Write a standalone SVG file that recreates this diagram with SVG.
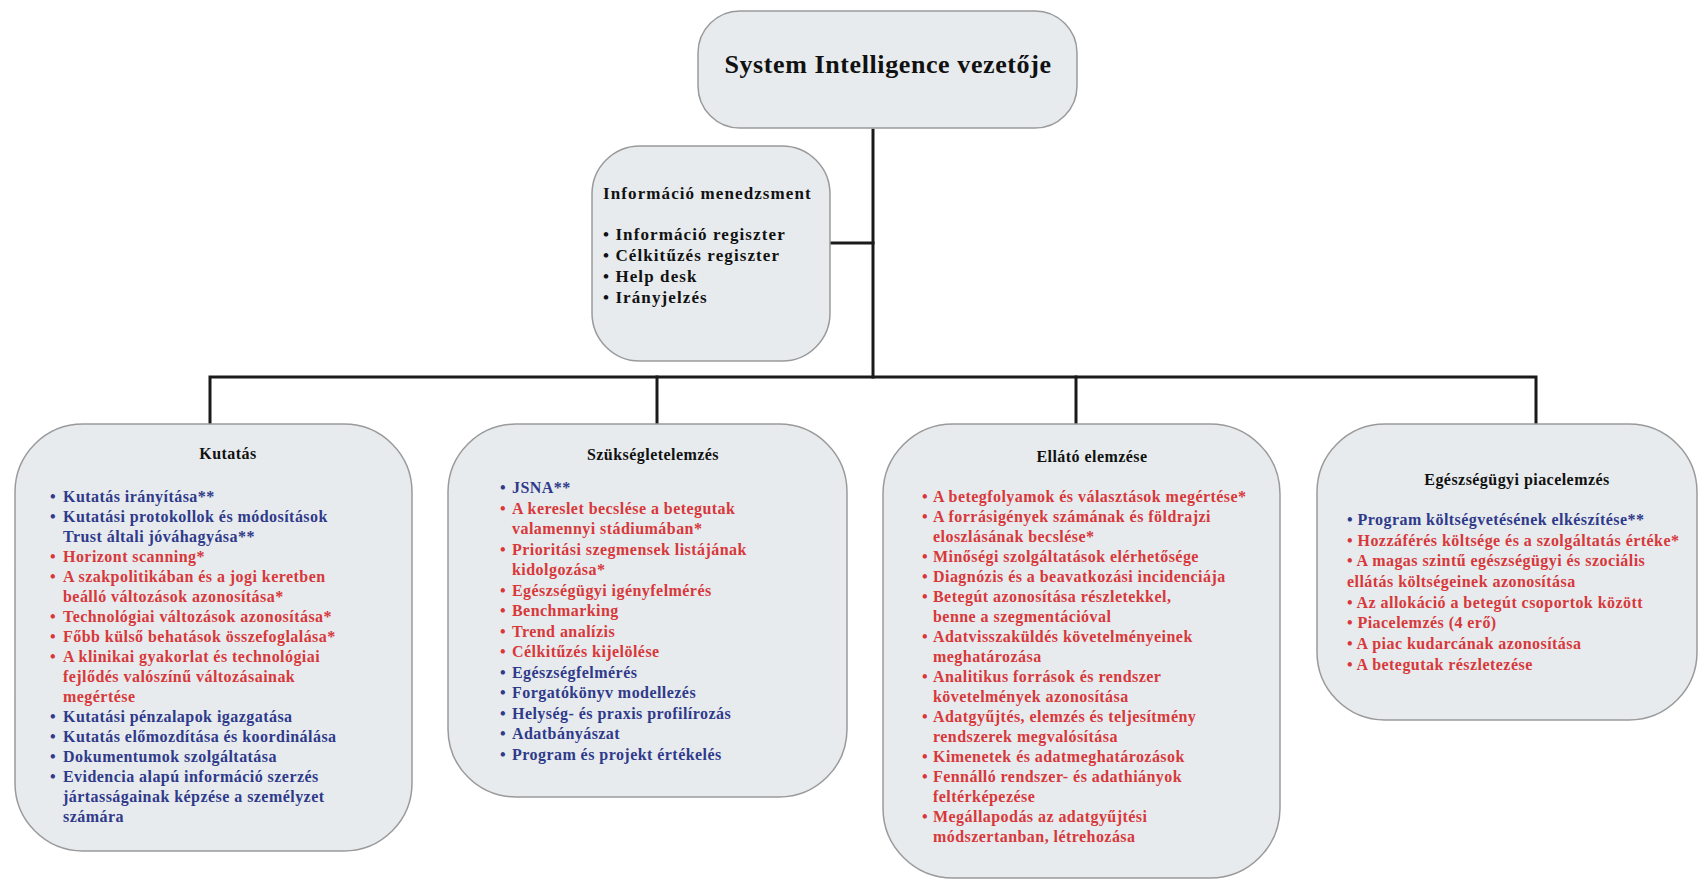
<svg xmlns="http://www.w3.org/2000/svg" width="1699" height="880" viewBox="0 0 1699 880">
<style>
.box{fill:#e7ebee;stroke:#9a9a9a;stroke-width:1.5}
.ln{stroke:#1a1a1a;stroke-width:3;fill:none;stroke-linecap:square}
text{font-family:"Liberation Serif","Times New Roman",serif;font-weight:bold}
.h{font-size:16px;fill:#111;text-anchor:middle;letter-spacing:0.45px}
.b{font-size:16px;fill:#2f3a8a;letter-spacing:0.45px}
.r{font-size:16px;fill:#d8383a;letter-spacing:0.45px}
.k{font-size:17px;fill:#111;letter-spacing:1.1px}
</style>
<rect width="1699" height="880" fill="#ffffff"/>
<g id="connectors">
<path class="ln" d="M873 130 V377"/>
<path class="ln" d="M831 243 H873"/>
<path class="ln" d="M210 424 V377 H1536 V424"/>
<path class="ln" d="M657 377 V424"/>
<path class="ln" d="M1076 377 V424"/>
</g>
<g id="root">
<rect class="box" x="698" y="11" width="379" height="117" rx="42" ry="42"/>
<text x="888" y="73" style="font-size:26px;fill:#111;letter-spacing:0.6px" text-anchor="middle">System Intelligence vezetője</text>
</g>
<g id="info">
<rect class="box" x="592" y="146" width="238" height="215" rx="48" ry="48"/>
<text class="k" x="603" y="199">Információ menedzsment</text>
<text class="k" x="603" y="240">• Információ regiszter</text>
<text class="k" x="603" y="261">• Célkitűzés regiszter</text>
<text class="k" x="603" y="282">• Help desk</text>
<text class="k" x="603" y="303">• Irányjelzés</text>
</g>
<g id="kutatas">
<rect class="box" x="15" y="424" width="397" height="427" rx="68" ry="68"/>
<text class="h" x="228" y="459">Kutatás</text>
<text class="b" x="50" y="502">•</text><text class="b" x="63" y="502">Kutatás irányítása**</text>
<text class="b" x="50" y="522">•</text><text class="b" x="63" y="522">Kutatási protokollok és módosítások</text>
<text class="b" x="63" y="542">Trust általi jóváhagyása**</text>
<text class="r" x="50" y="562">•</text><text class="r" x="63" y="562">Horizont scanning*</text>
<text class="r" x="50" y="582">•</text><text class="r" x="63" y="582">A szakpolitikában és a jogi keretben</text>
<text class="r" x="63" y="602">beálló változások azonosítása*</text>
<text class="r" x="50" y="622">•</text><text class="r" x="63" y="622">Technológiai változások azonosítása*</text>
<text class="r" x="50" y="642">•</text><text class="r" x="63" y="642">Főbb külső behatások összefoglalása*</text>
<text class="r" x="50" y="662">•</text><text class="r" x="63" y="662">A klinikai gyakorlat és technológiai</text>
<text class="r" x="63" y="682">fejlődés valószínű változásainak</text>
<text class="r" x="63" y="702">megértése</text>
<text class="b" x="50" y="722">•</text><text class="b" x="63" y="722">Kutatási pénzalapok igazgatása</text>
<text class="b" x="50" y="742">•</text><text class="b" x="63" y="742">Kutatás előmozdítása és koordinálása</text>
<text class="b" x="50" y="762">•</text><text class="b" x="63" y="762">Dokumentumok szolgáltatása</text>
<text class="b" x="50" y="782">•</text><text class="b" x="63" y="782">Evidencia alapú információ szerzés</text>
<text class="b" x="63" y="802">jártasságainak képzése a személyzet</text>
<text class="b" x="63" y="822">számára</text>
</g>
<g id="szukseglet">
<rect class="box" x="448" y="424" width="399" height="373" rx="68" ry="68"/>
<text class="h" x="653" y="460">Szükségletelemzés</text>
<text class="b" x="500" y="493">•</text><text class="b" x="512" y="493">JSNA**</text>
<text class="r" x="500" y="513.5">•</text><text class="r" x="512" y="513.5">A kereslet becslése a betegutak</text>
<text class="r" x="512" y="534">valamennyi stádiumában*</text>
<text class="r" x="500" y="554.5">•</text><text class="r" x="512" y="554.5">Prioritási szegmensek listájának</text>
<text class="r" x="512" y="575">kidolgozása*</text>
<text class="r" x="500" y="595.5">•</text><text class="r" x="512" y="595.5">Egészségügyi igényfelmérés</text>
<text class="r" x="500" y="616">•</text><text class="r" x="512" y="616">Benchmarking</text>
<text class="r" x="500" y="636.5">•</text><text class="r" x="512" y="636.5">Trend analízis</text>
<text class="r" x="500" y="657">•</text><text class="r" x="512" y="657">Célkitűzés kijelölése</text>
<text class="b" x="500" y="677.5">•</text><text class="b" x="512" y="677.5">Egészségfelmérés</text>
<text class="b" x="500" y="698">•</text><text class="b" x="512" y="698">Forgatókönyv modellezés</text>
<text class="b" x="500" y="718.5">•</text><text class="b" x="512" y="718.5">Helység- és praxis profilírozás</text>
<text class="b" x="500" y="739">•</text><text class="b" x="512" y="739">Adatbányászat</text>
<text class="b" x="500" y="759.5">•</text><text class="b" x="512" y="759.5">Program és projekt értékelés</text>
</g>
<g id="ellato">
<rect class="box" x="883" y="424" width="397" height="454" rx="70" ry="70"/>
<text class="h" x="1092" y="462">Ellátó elemzése</text>
<text class="r" x="922" y="502">•</text><text class="r" x="933" y="502">A betegfolyamok és választások megértése*</text>
<text class="r" x="922" y="522">•</text><text class="r" x="933" y="522">A forrásigények számának és földrajzi</text>
<text class="r" x="933" y="542">eloszlásának becslése*</text>
<text class="r" x="922" y="562">•</text><text class="r" x="933" y="562">Minőségi szolgáltatások elérhetősége</text>
<text class="r" x="922" y="582">•</text><text class="r" x="933" y="582">Diagnózis és a beavatkozási incidenciája</text>
<text class="r" x="922" y="602">•</text><text class="r" x="933" y="602">Betegút azonosítása részletekkel,</text>
<text class="r" x="933" y="622">benne a szegmentációval</text>
<text class="r" x="922" y="642">•</text><text class="r" x="933" y="642">Adatvisszaküldés követelményeinek</text>
<text class="r" x="933" y="662">meghatározása</text>
<text class="r" x="922" y="682">•</text><text class="r" x="933" y="682">Analitikus források és rendszer</text>
<text class="r" x="933" y="702">követelmények azonosítása</text>
<text class="r" x="922" y="722">•</text><text class="r" x="933" y="722">Adatgyűjtés, elemzés és teljesítmény</text>
<text class="r" x="933" y="742">rendszerek megvalósítása</text>
<text class="r" x="922" y="762">•</text><text class="r" x="933" y="762">Kimenetek és adatmeghatározások</text>
<text class="r" x="922" y="782">•</text><text class="r" x="933" y="782">Fennálló rendszer- és adathiányok</text>
<text class="r" x="933" y="802">feltérképezése</text>
<text class="r" x="922" y="822">•</text><text class="r" x="933" y="822">Megállapodás az adatgyűjtési</text>
<text class="r" x="933" y="842">módszertanban, létrehozása</text>
</g>
<g id="piac">
<rect class="box" x="1317" y="424" width="380" height="296" rx="68" ry="68"/>
<text class="h" x="1517" y="485">Egészségügyi piacelemzés</text>
<text class="b" x="1347" y="525">• Program költségvetésének elkészítése**</text>
<text class="r" x="1347" y="546">• Hozzáférés költsége és a szolgáltatás értéke*</text>
<text class="r" x="1347" y="566">• A magas szintű egészségügyi és szociális</text>
<text class="r" x="1347" y="587">ellátás költségeinek azonosítása</text>
<text class="r" x="1347" y="608">• Az allokáció a betegút csoportok között</text>
<text class="r" x="1347" y="628">• Piacelemzés (4 erő)</text>
<text class="r" x="1347" y="649">• A piac kudarcának azonosítása</text>
<text class="r" x="1347" y="670">• A betegutak részletezése</text>
</g>
</svg>
